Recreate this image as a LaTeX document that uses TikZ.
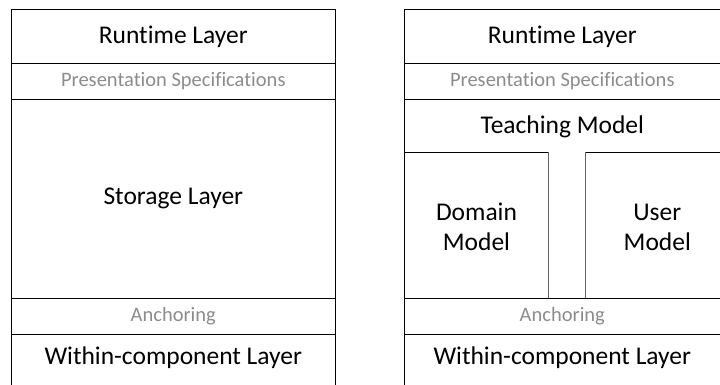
\documentclass[tikz,border=0pt]{standalone}
\usepackage{fontspec}
\setmainfont{Carlito}[Ligatures={NoCommon}]
\begin{document}
\begin{tikzpicture}[x=1pt,y=-1pt,
  frame/.style={line width=1pt, black},
  inner/.style={line width=0.9pt, black!60},
  title/.style={font=\fontsize{25.5}{30}\selectfont, text=black, inner sep=0pt, align=center},
  note/.style={font=\fontsize{20.5}{24}\selectfont, text=black!45, inner sep=0pt}]
\useasboundingbox (0,0) rectangle (720,385);
\clip (0,0) rectangle (720,385);

% ---- left stack: runtime / storage / within-component ----
\draw[frame] (11,385) -- (11,9.5) -- (335.5,9.5) -- (335.5,385);
\draw[frame] (11,63.3) -- (335.5,63.3);
\draw[frame] (11,99.5) -- (335.5,99.5);
\draw[frame] (11,298) -- (335.5,298);
\draw[frame] (11,334) -- (335.5,334);

\node[title] (lrun)  at (173.3,36.4)  {Runtime Layer};
\node[note]  (lpres) at (173.3,81.4)  {Presentation Specifications};
\node[title] (lstor) at (173.3,198.7) {Storage Layer};
\node[note]  (lanch) at (173.3,316)   {Anchoring};
\node[title] (lwith) at (173.3,357.5) {Within-component Layer};

% ---- right stack: storage split into teaching, domain and user models ----
\draw[frame] (404.5,385) -- (404.5,9.5) -- (730,9.5);
\draw[frame] (404.5,63.3) -- (730,63.3);
\draw[frame] (404.5,99.5) -- (730,99.5);
\draw[frame] (404.5,298) -- (730,298);
\draw[frame] (404.5,334) -- (730,334);
\draw[frame] (404.5,152.3) -- (548.5,152.3);
\draw[frame] (585,152.3) -- (730,152.3);
\draw[inner] (548.5,152.3) -- (548.5,298);
\draw[inner] (585,152.3) -- (585,298);

\node[title] (rrun)   at (562.3,36.4)  {Runtime Layer};
\node[note]  (rpres)  at (562.3,81.4)  {Presentation Specifications};
\node[title] (rteach) at (562.3,126.5) {Teaching Model};
\node[title] (rdom)   at (476.5,227)   {Domain\\Model};
\node[title] (ruser)  at (657.3,227)   {User\\Model};
\node[note]  (ranch)  at (562.3,316)   {Anchoring};
\node[title] (rwith)  at (562.3,357.5) {Within-component Layer};
\end{tikzpicture}
\end{document}
